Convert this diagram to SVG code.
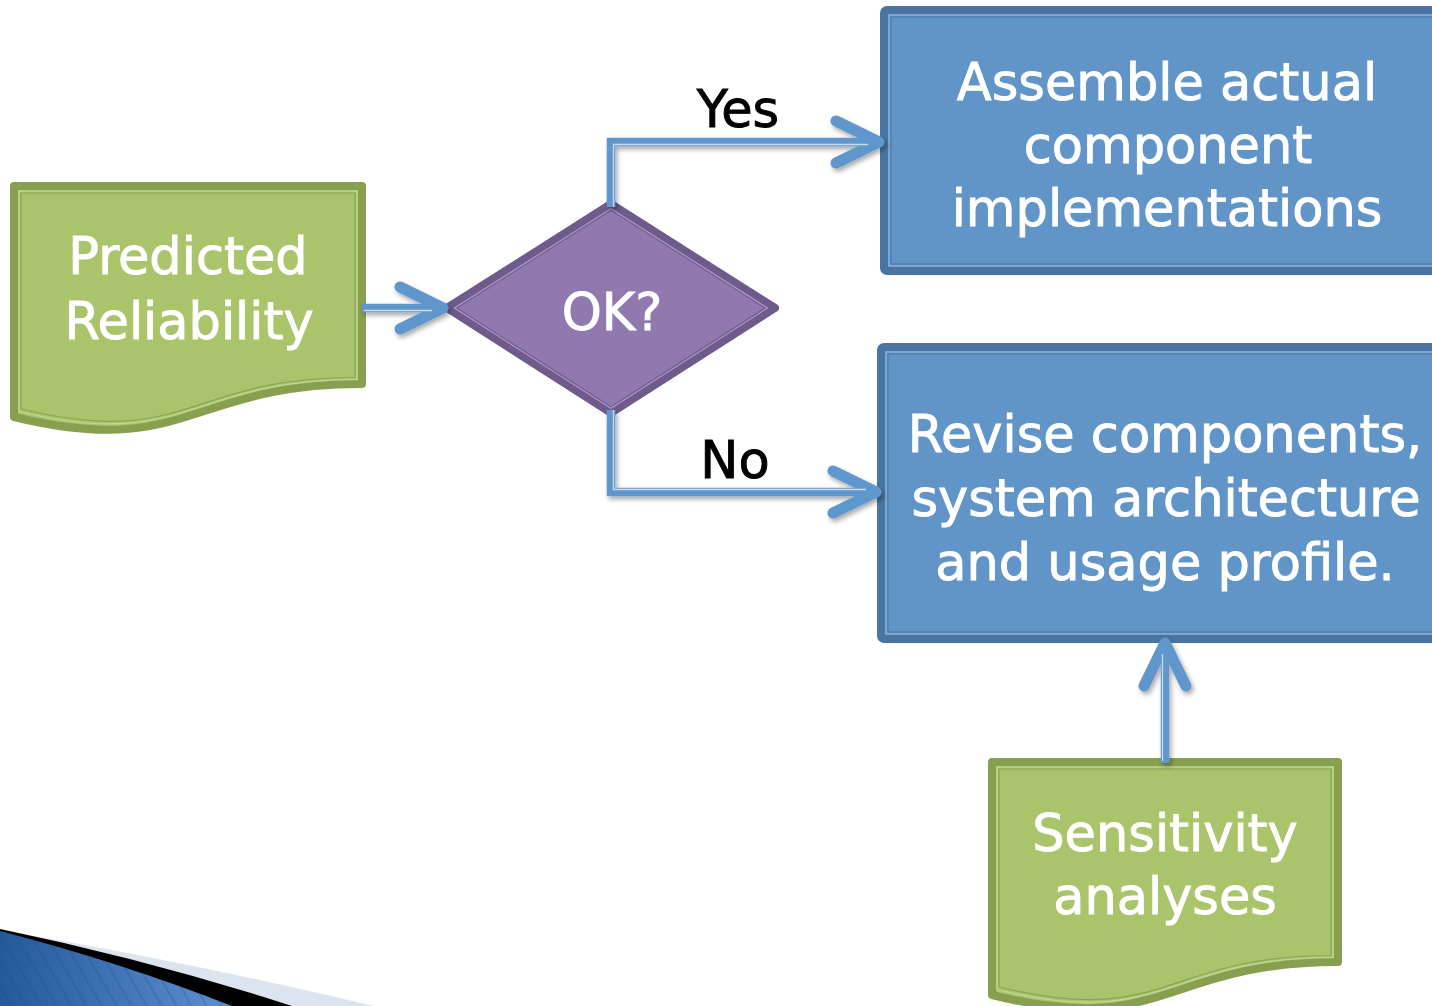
<svg xmlns="http://www.w3.org/2000/svg" width="1432" height="1006" viewBox="0 0 1432 1006">
  <style>
    .txt { font-family: "DejaVu Sans", "Liberation Sans", sans-serif; font-size: 51px; text-anchor: middle; fill: #ffffff; stroke: #ffffff; stroke-width: 0.9; }
    .lbl { fill: #000000; stroke: #000000; }
    .green { fill: #AAC46C; stroke: #87A04F; stroke-width: 8; stroke-linejoin: round; }
    .blue { fill: #6195C8; stroke: #4A75A2; stroke-width: 8; stroke-linejoin: round; }
    .purple { fill: #9079AE; stroke: #6E5A8B; stroke-width: 8; stroke-linejoin: round; }
    .hl-green { fill: none; stroke: #C3D69A; stroke-width: 1.2; }
    .in-green { fill: none; stroke: #8BA454; stroke-width: 1.2; }
    .hl-blue { fill: none; stroke: #8FB3DA; stroke-width: 1.2; }
    .in-blue { fill: none; stroke: #4E7AA8; stroke-width: 1.2; }
    .hl-purple { fill: none; stroke: #AE9CC6; stroke-width: 1.2; }
    .in-purple { fill: none; stroke: #735F90; stroke-width: 1.2; }
    .wire { fill: none; stroke: #5F96CC; stroke-width: 8.5; stroke-linejoin: miter; }
    .wire-hl { fill: none; stroke: #C9DBEE; stroke-width: 1.3; }
  </style>
  <defs>
    <marker id="chev" markerUnits="userSpaceOnUse" viewBox="-60 -35 70 70" markerWidth="70" markerHeight="70" refX="0" refY="0" orient="auto" overflow="visible">
      <path d="M-43,-21 L0,0 L-43,21" fill="none" stroke="#5F96CC" stroke-width="11" stroke-linecap="round" stroke-linejoin="round"/>
    </marker>
    <filter id="shadow" x="-20%" y="-20%" width="140%" height="140%">
      <feDropShadow dx="2" dy="3" stdDeviation="2.5" flood-color="#000" flood-opacity="0.35"/>
    </filter>
    <linearGradient id="wedge" x1="0" y1="0" x2="1" y2="0">
      <stop offset="0" stop-color="#24599A"/>
      <stop offset="1" stop-color="#5D90D0"/>
    </linearGradient>
    <pattern id="stripes" width="13" height="13" patternUnits="userSpaceOnUse" patternTransform="rotate(-30)">
      <line x1="1" y1="0" x2="1" y2="13" stroke="#1D4B82" stroke-width="1" stroke-opacity="0.45"/>
    </pattern>
  </defs>

  <!-- corner decoration -->
  <g id="corner">
    <path d="M0,930 Q190,962 374,1006 L0,1006 Z" fill="#DCE4F0"/>
    <path d="M0,929 Q150,960 292,1006 L0,1006 Z" fill="#000000"/>
    <path d="M0,931 Q120,962 232,1006 L0,1006 Z" fill="url(#wedge)"/>
    <path d="M0,931 Q120,962 232,1006 L0,1006 Z" fill="url(#stripes)"/>
  </g>

  <!-- nodes -->
  <g id="predicted-reliability">
    <path class="green" d="M14,186 H362 V384 C188,384 188,459 14,417 Z"/>
    <path class="hl-green" d="M19,191 H357 V379.5 C188,379.5 188,452.5 19,411.5 Z"/>
    <path class="in-green" d="M21,193 H355 V377.5 C188,377.5 188,449.5 21,409 Z"/>
    <text class="txt" x="188" y="274">Predicted</text>
    <text class="txt" x="189" y="339">Reliability</text>
  </g>

  <g id="ok">
    <path class="purple" d="M447,308 L611,204 L775,308 L611,413 Z"/>
    <path class="hl-purple" d="M447,308 L611,204 L775,308 L611,413 Z" transform="translate(611 308.5) scale(0.955) translate(-611 -308.5)"/>
    <path class="in-purple" d="M447,308 L611,204 L775,308 L611,413 Z" transform="translate(611 308.5) scale(0.94) translate(-611 -308.5)"/>
    <text class="txt" x="612" y="330">OK?</text>
  </g>

  <g id="assemble">
    <rect class="blue" x="884" y="10" width="600" height="261" rx="3"/>
    <rect class="hl-blue" x="889" y="15" width="600" height="251"/>
    <rect class="in-blue" x="891" y="17" width="600" height="247"/>
    <text class="txt" x="1167" y="100">Assemble actual</text>
    <text class="txt" x="1168" y="163">component</text>
    <text class="txt" x="1167" y="226">implementations</text>
  </g>

  <g id="revise">
    <rect class="blue" x="881" y="347" width="600" height="292" rx="3"/>
    <rect class="hl-blue" x="886" y="352" width="600" height="282"/>
    <rect class="in-blue" x="888" y="354" width="600" height="278"/>
    <text class="txt" x="1165" y="452">Revise components,</text>
    <text class="txt" x="1166" y="516">system architecture</text>
    <text class="txt" x="1165" y="580">and usage profile.</text>
  </g>

  <g id="sensitivity">
    <path class="green" d="M992,762 H1338 V962 C1165,962 1165,1038 992,995 Z"/>
    <path class="hl-green" d="M997,767 H1333 V957.5 C1165,957.5 1165,1031.5 997,989.5 Z"/>
    <path class="in-green" d="M999,769 H1331 V955.5 C1165,955.5 1165,1028.5 999,987 Z"/>
    <text class="txt" x="1165" y="851">Sensitivity</text>
    <text class="txt" x="1165" y="914">analyses</text>
  </g>

  <!-- connectors -->
  <g id="connectors" filter="url(#shadow)">
    <path class="wire" d="M362,308 H443" marker-end="url(#chev)"/>
    <path class="wire-hl" d="M364,310.5 H432"/>
    <path class="wire" d="M611,207 V142 H879" marker-end="url(#chev)"/>
    <path class="wire-hl" d="M613.5,207 V144.5 H868"/>
    <path class="wire" d="M611,410 V492 H876" marker-end="url(#chev)"/>
    <path class="wire-hl" d="M613.5,410 V489.5 H866"/>
    <path class="wire" d="M1165,763 V643" marker-end="url(#chev)"/>
    <path class="wire-hl" d="M1162.5,761 V654"/>
  </g>
  <g id="connector-labels">
    <text class="txt lbl" x="738" y="127">Yes</text>
    <text class="txt lbl" x="735" y="478">No</text>
  </g>
</svg>
